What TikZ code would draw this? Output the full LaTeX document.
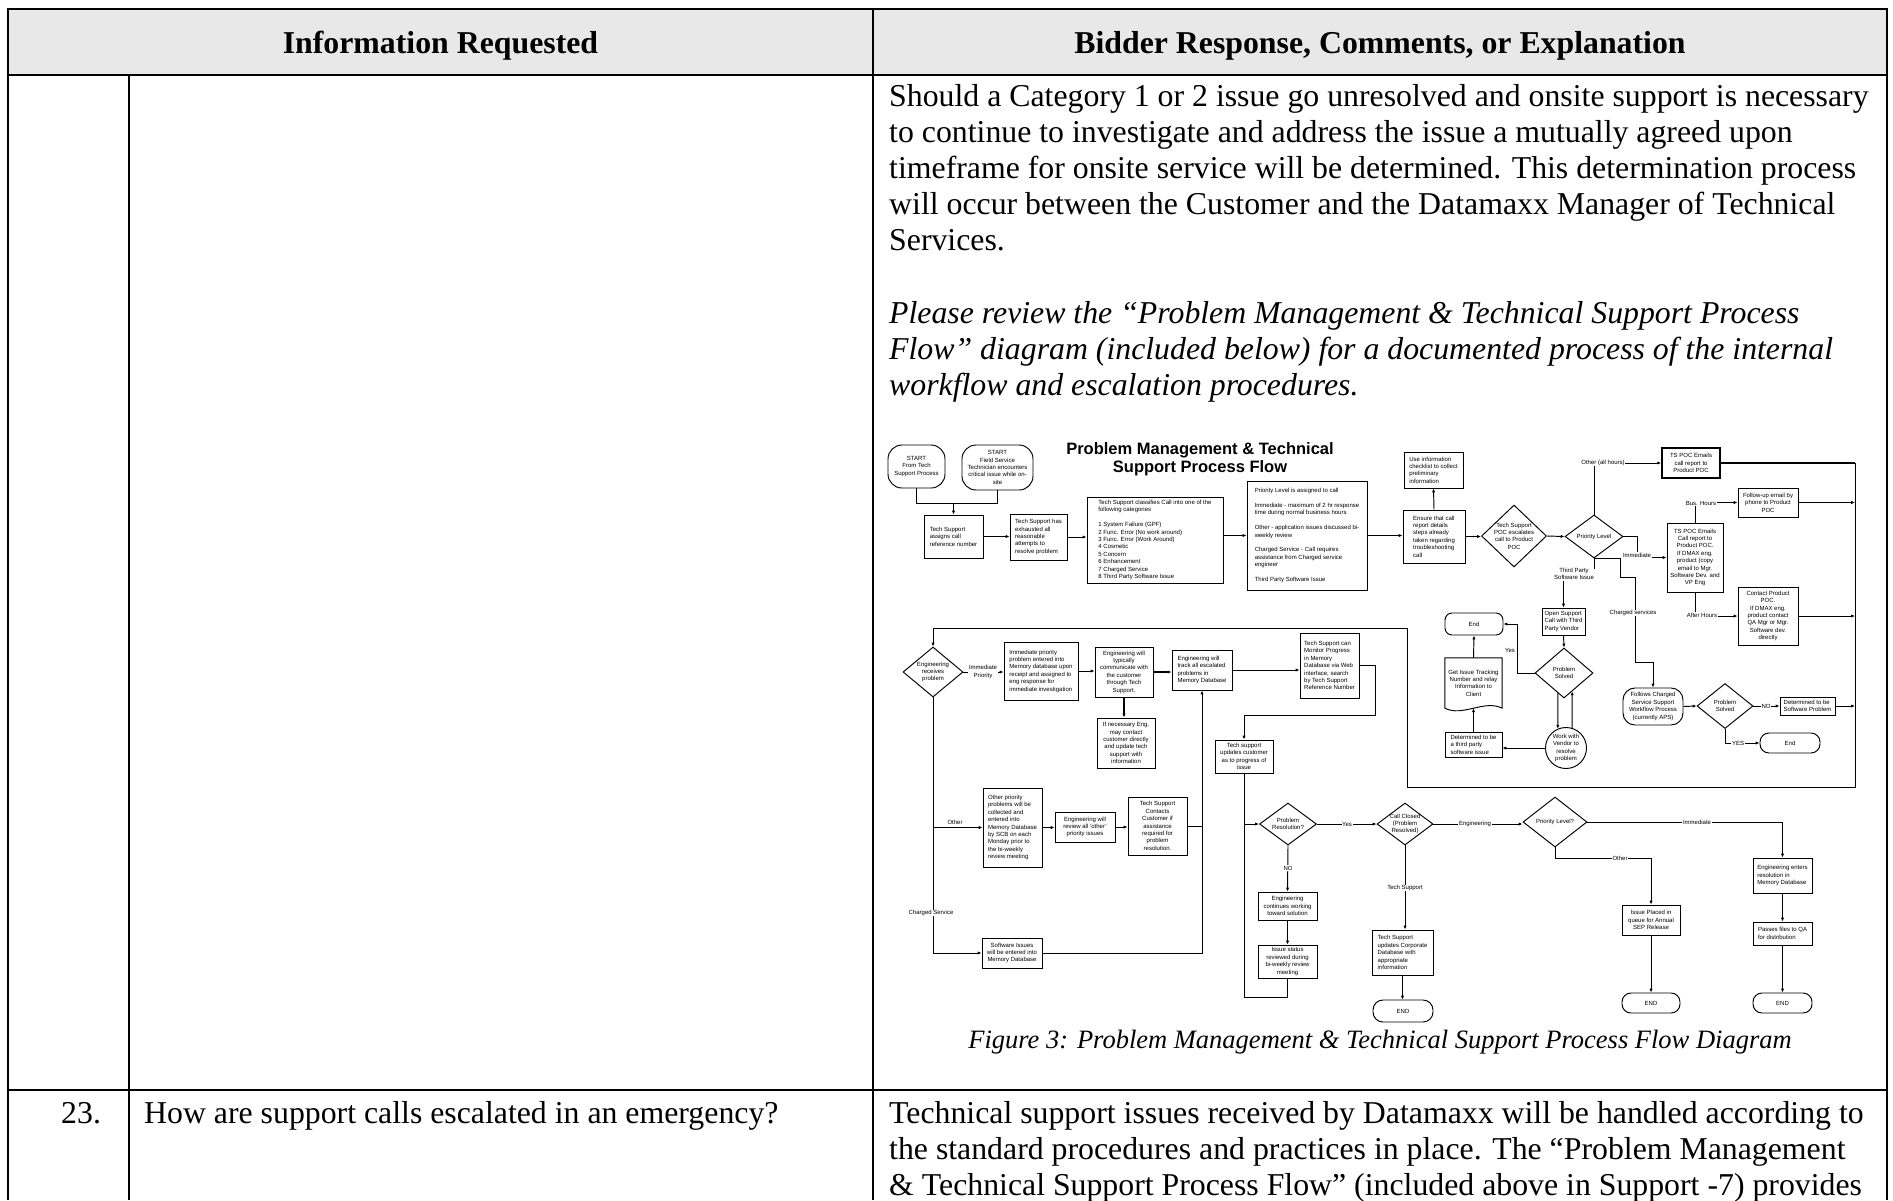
\documentclass[tikz,border=0pt]{standalone}
\usepackage{fontspec}
\setmainfont{Liberation Serif}
\newfontfamily\flowsans{Liberation Sans}
\usetikzlibrary{arrows.meta,shapes.geometric}
\newcommand\fcf{\flowsans\fontsize{6.0}{7.4}\selectfont}
\newcommand\bodyf{\fontsize{31.8}{36.2}\selectfont}
\begin{document}
\begin{tikzpicture}[x=1pt,y=-1pt,
  hrule/.style={line width=2.4pt},
  vrule/.style={line width=1.3pt},
  fl/.style={line width=0.95pt},
  thick fl/.style={line width=1.7pt},
  ar/.style={fl,-{Latex[length=3.8pt,width=3.2pt]}},
  box/.style={draw,fl,rectangle,inner sep=1.2pt,align=left,font=\fcf},
  cbox/.style={box,align=center},
  term/.style={draw,fl,rectangle,rounded corners=7pt,inner sep=1pt,align=center,font=\fcf},
  dia/.style={draw,fl,diamond,inner sep=0pt},
  dtx/.style={font=\fcf,align=center,inner sep=0pt},
  lbl/.style={font=\fcf,fill=white,inner sep=0.6pt,align=center},
  txt/.style={anchor=base west,inner sep=0pt,font=\bodyf},
]
\useasboundingbox (0,0) rectangle (1893,1200);

% ---------------- table frame ----------------
\fill[black!9] (8,9) rectangle (1887,75);
\draw[hrule] (7,9) -- (1888,9);
\draw[hrule] (7,75) -- (1888,75);
\draw[hrule] (7,1090) -- (1888,1090);
\draw[vrule] (8,9) -- (8,1200);
\draw[vrule] (873,9) -- (873,1200);
\draw[vrule] (1887,9) -- (1887,1200);
\draw[vrule] (129,75) -- (129,1200);

\node[anchor=base,inner sep=0pt,font=\bodyf\bfseries] (h1) at (440.5,53) {Information Requested};
\node[anchor=base,inner sep=0pt,font=\bodyf\bfseries] (h2) at (1380,53) {Bidder Response, Comments, or Explanation};

% ---------------- row 22 text ----------------
\node[txt] (p1) at (889,106.0) {Should a Category 1 or 2 issue go unresolved and onsite support is necessary};
\node[txt] (p2) at (889,142.2) {to continue to investigate and address the issue a mutually agreed upon};
\node[txt] (p3) at (889,178.4) {timeframe for onsite service will be determined. This determination process};
\node[txt] (p4) at (889,214.6) {will occur between the Customer and the Datamaxx Manager of Technical};
\node[txt] (p5) at (889,250.8) {Services.};
\node[txt,font=\bodyf\itshape] (p6) at (889,323.2) {Please review the “Problem Management \& Technical Support Process};
\node[txt,font=\bodyf\itshape] (p7) at (889,359.4) {Flow” diagram (included below) for a documented process of the internal};
\node[txt,font=\bodyf\itshape] (p8) at (889,395.6) {workflow and escalation procedures.};

\node[anchor=base,inner sep=0pt,font=\fontsize{26.5}{30}\selectfont\itshape] (cap) at (1380,1048)
  {Figure 3: Problem Management \& Technical Support Process Flow Diagram};

% ---------------- row 23 text ----------------
\node[txt] (n23) at (61,1123) {23.};
\node[txt] (q23) at (144,1123) {How are support calls escalated in an emergency?};
\node[txt] (r1) at (889,1123) {Technical support issues received by Datamaxx will be handled according to};
\node[txt] (r2) at (889,1159.2) {the standard procedures and practices in place. The “Problem Management};
\node[txt] (r3) at (889,1195.4) {\& Technical Support Process Flow” (included above in Support -7) provides};

% ================= process flow =================
\node[font=\flowsans\bfseries\fontsize{16.5}{18.5}\selectfont,align=center,inner sep=0pt] (title) at (1200,459)
  {Problem Management \& Technical\\Support Process Flow};

% --- intake row ---
\node[term,rounded corners=14pt,minimum width=57pt,minimum height=43pt] (s1) at (916.5,466.5) {START\\From Tech\\Support Process};
\node[term,rounded corners=14pt,minimum width=71pt,minimum height=45pt] (s2) at (997.5,467.5) {START\\Field Service\\Technician encounters\\critical issue while on-\\site};
\node[box,minimum width=59pt,minimum height=43pt] (b1) at (953.5,536.5) {Tech Support\\assigns call\\reference number};
\node[box,minimum width=57pt,minimum height=46pt] (b2) at (1038.5,537) {Tech Support has\\exhausted all\\reasonable\\attempts to\\resolve problem};
\node[box,minimum width=136pt,minimum height=86pt] (b3) at (1155,540) {Tech Support classifies Call into one of the\\following categories\\[7.4pt]1 System Failure (GPF)\\2 Func. Error (No work around)\\3 Func. Error (Work Around)\\4 Cosmetic\\5 Concern\\6 Enhancement\\7 Charged Service\\8 Third Party Software Issue};
\node[box,minimum width=120pt,minimum height=109pt] (b4) at (1307,535.5) {Priority Level is assigned to call\\[7.4pt]Immediate - maximum of 2 hr response\\time during normal business hours\\[7.4pt]Other - application issues discussed bi-\\weekly review\\[7.4pt]Charged Service - Call requires\\assistance from Charged service\\engineer\\[7.4pt]Third Party Software Issue};
\node[box,minimum width=62pt,minimum height=53pt] (b5) at (1434,536.5) {Ensure that call\\report details\\steps already\\taken regarding\\troubleshooting\\call};
\node[box,minimum width=59pt,minimum height=36pt] (b6) at (1433.5,470) {Use information\\checklist to collect\\preliminary\\information};
\node[dia,minimum width=65pt,minimum height=62pt,label={[dtx]center:{Tech Support\\POC escalates\\call to Product\\POC}}] (d1) at (1514,536) {};
\node[dia,minimum width=58pt,minimum height=43pt,label={[dtx]center:{Priority Level}}] (d2) at (1594,536.5) {};

% --- escalation column ---
\node[cbox,line width=1.7pt,minimum width=58pt,minimum height=30pt] (b7) at (1691,463) {TS POC Emails\\call report to\\Product POC};
\node[cbox,minimum width=60pt,minimum height=29pt] (b8) at (1768,502.5) {Follow-up email by\\phone to Product\\POC};
\node[cbox,minimum width=56pt,minimum height=69pt] (b9) at (1695,557.5) {TS POC Emails\\Call report to\\Product POC.\\If DMAX eng.\\product (copy\\email to Mgr.\\Software Dev. and\\VP Eng};
\node[cbox,minimum width=60pt,minimum height=58pt] (b10) at (1768,616) {Contact Product\\POC.\\If DMAX eng.\\product contact\\QA Mgr or Mgr.\\Software dev.\\directly};

% --- third party branch ---
\node[box,minimum width=43pt,minimum height=27pt] (b11) at (1563.5,621.5) {Open Support\\Call with Third\\Party Vendor};
\node[dia,minimum width=58pt,minimum height=50pt,label={[dtx]center:{Problem\\Solved}}] (d3) at (1564,673) {};
\node[draw,fl,circle,minimum size=41pt,inner sep=0pt,align=center,font=\fcf] (c1) at (1566,748) {Work with\\Vendor to\\resolve\\problem};
\node[term,minimum width=58pt,minimum height=22pt] (t1) at (1474,624) {End};
\node[minimum width=57pt,minimum height=50pt,inner sep=0pt,align=center,font=\fcf] (doc1) at (1473.5,683) {Get Issue Tracking\\Number and relay\\Information to\\Client};
\draw[fl] (doc1.south west) -- (doc1.north west) -- (doc1.north east) -- (doc1.south east)
  .. controls +(-18,-9) and +(18,9) .. (doc1.south west);
\node[box,minimum width=57pt,minimum height=25pt] (b12) at (1473.5,744.5) {Determined to be\\a third party\\software issue};

% --- charged service branch ---
\node[term,rounded corners=12pt,minimum width=60pt,minimum height=37pt] (t2) at (1653,706.5) {Follows Charged\\Service Support\\Workflow Process\\(currently APS)};
\node[dia,minimum width=56pt,minimum height=45pt,label={[dtx]center:{Problem\\Solved}}] (d4) at (1725,706) {};
\node[box,minimum width=55pt,minimum height=18pt] (b13) at (1807.5,706) {Determined to be\\Software Problem};
\node[term,rounded corners=9pt,minimum width=60pt,minimum height=20pt] (t3) at (1790,743) {End};

% --- engineering row ---
\node[dia,minimum width=60pt,minimum height=50pt,label={[dtx]center:{Engineering\\receives\\problem}}] (d5) at (933,672) {};
\node[box,minimum width=74pt,minimum height=58pt] (b14) at (1041,671) {Immediate priority\\problem entered into\\Memory database upon\\receipt and assigned to\\eng response for\\immediate investigation};
\node[cbox,minimum width=58pt,minimum height=50pt] (b15) at (1124,672) {Engineering will\\typically\\communicate with\\the customer\\through Tech\\Support.};
\node[cbox,minimum width=58pt,minimum height=50pt] (b16) at (1126,743) {If necessary Eng.\\may contact\\customer directly\\and update tech\\support with\\information};
\node[box,minimum width=60pt,minimum height=40pt] (b17) at (1202,670) {Engineering will\\track all escalated\\problems in\\Memory Database};
\node[box,minimum width=59pt,minimum height=65pt] (b18) at (1329.5,665.5) {Tech Support can\\Monitor Progress\\in Memory\\Database via Web\\interface, search\\by Tech Support\\Reference Number};
\node[cbox,minimum width=58pt,minimum height=33pt] (b19) at (1244,756.5) {Tech support\\updates customer\\as to progress of\\issue};
\node[box,minimum width=59pt,minimum height=79pt] (b20) at (1012.5,827.5) {Other priority\\problems will be\\collected and\\entered into\\Memory Database\\by SCB on each\\Monday prior to\\the bi-weekly\\review meeting};
\node[cbox,minimum width=60pt,minimum height=30pt] (b21) at (1085,827) {Engineering will\\review all ‘other’\\priority issues};
\node[cbox,minimum width=59pt,minimum height=58pt] (b22) at (1157.5,826) {Tech Support\\Contacts\\Customer if\\assistance\\required for\\problem\\resolution.};
\node[cbox,minimum width=60pt,minimum height=30pt] (b23) at (1012,953) {Software Issues\\will be entered into\\Memory Database};

% --- resolution row ---
\node[dia,minimum width=57pt,minimum height=42pt,label={[dtx]center:{Problem\\Resolution?}}] (d6) at (1288,824) {};
\node[dia,minimum width=56pt,minimum height=42pt,label={[dtx]center:{Call Closed\\(Problem\\Resolved)}}] (d7) at (1405,824) {};
\node[dia,minimum width=64pt,minimum height=50pt,label={[dtx]center:{Priority Level?}}] (d8) at (1555,822) {};
\node[cbox,minimum width=59pt,minimum height=28pt] (b24) at (1287.5,906) {Engineering\\continues working\\toward solution};
\node[cbox,minimum width=59pt,minimum height=33pt] (b25) at (1287.5,961.5) {Issue status\\reviewed during\\bi-weekly review\\meeting};
\node[box,minimum width=61pt,minimum height=45pt] (b26) at (1402.5,952.5) {Tech Support\\updates Corporate\\Database with\\appropriate\\information};
\node[term,rounded corners=10pt,minimum width=60pt,minimum height=22pt] (t4) at (1403,1011) {END};
\node[cbox,minimum width=58pt,minimum height=30pt] (b27) at (1651,920) {Issue Placed in\\queue for Annual\\SEP Release};
\node[term,rounded corners=9pt,minimum width=58pt,minimum height=20pt] (t5) at (1651,1003) {END};
\node[box,minimum width=59pt,minimum height=35pt] (b28) at (1782.5,875.5) {Engineering enters\\resolution in\\Memory Database};
\node[box,minimum width=59pt,minimum height=23pt] (b29) at (1782.5,933.5) {Passes files to QA\\for distribution};
\node[term,rounded corners=9pt,minimum width=59pt,minimum height=20pt] (t6) at (1782.5,1003) {END};

% --- junction points ---
\coordinate (j1) at (953.5,503);
\coordinate (rc1) at (1855,463);
\coordinate (rc2) at (1855,787);
\coordinate (rc3) at (1407,787);
\coordinate (rc4) at (1407,628);
\coordinate (rc5) at (933,628);
\coordinate (jA) at (1244,824);
\coordinate (jB) at (1244,997);
\coordinate (jC) at (1375,715);
\coordinate (jD) at (1555,858);

% --- connectors: intake row ---
\draw[fl] (s1.south) -- (s1.south |- j1) -- (s2.south |- j1) -- (s2.south);
\draw[ar] (j1) -- (b1.north);
\draw[ar] (b1.east) -- (b1.east -| b2.west);
\draw[ar] (b2.east) -- (b2.east -| b3.west);
\draw[ar] (b4.west -| b3.east) -- (b4.west);
\draw[ar] (b4.east) -- (b4.east -| b5.west);
\draw[ar] (b5.north) -- (b6.south);
\draw[ar,thick fl] (b5.east) -- (b5.east -| d1.west);
\draw[ar] (d1.east) -- (d2.west);

% --- connectors: escalation ---
\draw[ar] (d2.north) |- (b7.west);
\draw[thick fl] (b7.east) -- (rc1);
\draw[fl] (rc1) -- (rc2) -- (rc3) -- (rc4) -- (rc5);
\draw[ar] (rc5) -- (d5.north);
\draw[ar] (b9.north) |- (b8.west);
\draw[ar] (b8.east) -- (b8.east -| rc1);
\draw[ar] (d2.east) -- ++(14,0) |- (b9.west);
\draw[ar] (b9.south) |- (b10.west);
\draw[ar] (b10.east) -- (b10.east -| rc1);
\draw[ar] (d2.south) -- ++(0,10) -| (b11.north);
\draw[ar] (d2.south) -- ++(26,0) -- ++(0,19) -- ++(15,0) |- (1653,662) -- (t2.north);

% --- connectors: third party branch ---
\draw[ar] (b11.south) -- (d3.north);
\draw[ar] (d3.253) -- (c1.113);
\draw[ar] (c1.73) -- (d3.294);
\draw[ar] (d3.west) -- ++(-17,0) |- (t1.east);
\draw[ar] (doc1.north) -- (t1.south);
\draw[ar] (b12.north) -- (doc1.south);
\draw[ar] (c1.west) -- (c1.west -| b12.east);

% --- connectors: charged service ---
\draw[ar] (t2.east) -- (d4.west);
\draw[ar] (d4.east) -- (b13.west);
\draw[ar] (b13.east) -- (b13.east -| rc1);
\draw[ar] (d4.south) |- (t3.west);

% --- connectors: engineering row ---
\draw[ar] (d5.east) -- (d5.east -| b14.west);
\draw[ar] (b14.east) -- (b14.east -| b15.west);
\draw[ar,thick fl] (b15.east) -- (b15.east -| b17.west);
\draw[ar,thick fl] (b15.south) -- (b15.south |- b16.north);
\draw[ar] (b17.east) -- (b17.east -| b18.west);
\draw[ar] (b18.east) -- (b18.east -| jC) -- (jC) -| (b19.north);
\draw[fl] (b19.south) -- (jA);
\draw[ar] (jA) -- (d6.west);
\draw[fl] (b25.south) |- (jB) -- (jA);
\draw[ar] (d5.south) |- (b23.west);
\draw[ar] (d5.south |- b20.west) -- (b20.west);
\draw[ar] (b20.east) -- (b20.east -| b21.west);
\draw[ar] (b21.east) -- (b21.east -| b22.west);
\draw[fl] (b22.east) -- (b22.east -| b17.south);
\draw[ar] (b23.east) -| (b17.south);

% --- connectors: resolution row ---
\draw[ar] (d6.east) -- (d7.west);
\draw[ar] (d7.east) -- (d7.east -| d8.west);
\draw[ar] (d6.south) -- (b24.north);
\draw[ar] (b24.south) -- (b25.north);
\draw[ar] (d7.south) -- (d7.south |- b26.north);
\draw[ar] (b26.south) -- (b26.south |- t4.north);
\draw[ar] (d8.south) -- (jD) -| (b27.north);
\draw[ar] (b27.south) -- (t5.north);
\draw[ar] (d8.east) -| (b28.north);
\draw[ar] (b28.south) -- (b29.north);
\draw[ar] (b29.south) -- (t6.north);

% --- connector labels ---
\node[lbl] (lOah) at (1603,463) {Other (all hours)};
\node[lbl] (lBus) at (1701,503) {Bus. Hours};
\node[lbl] (lImm) at (1637,555) {Immediate};
\node[lbl] (lAft) at (1702,615) {After Hours};
\node[lbl] (lTP) at (1574,574) {Third Party\\Software Issue};
\node[lbl] (lCh) at (1633,613) {Charged services};
\node[lbl] (lNO) at (1766,706) {NO};
\node[lbl] (lYES) at (1738,743) {YES};
\node[lbl] (lYes) at (1510,650) {Yes};
\node[lbl] (lIP) at (983,672) {Immediate\\Priority};
\node[lbl] (lOth) at (955,822) {Other};
\node[lbl] (lCS) at (931,913) {Charged Service};
\node[lbl] (lY2) at (1347,824) {Yes};
\node[lbl] (lEng) at (1475,824) {Engineering};
\node[lbl] (lNO2) at (1288,868) {NO};
\node[lbl] (lTS) at (1405,888) {Tech Support};
\node[lbl] (lOth2) at (1620,858) {Other};
\node[lbl] (lImm2) at (1697,822) {Immediate};
\end{tikzpicture}
\end{document}
